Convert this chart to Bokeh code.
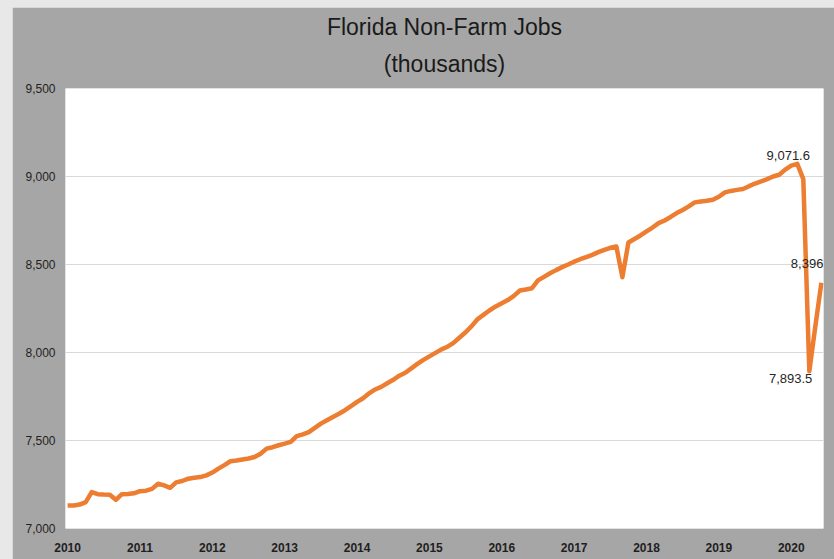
from bokeh.plotting import figure
from bokeh.models import FixedTicker, Label, ColumnDataSource, Range1d, NumeralTickFormatter, Title
from bokeh.layouts import column
from bokeh.embed import file_html
from bokeh.resources import INLINE

# Monthly Florida non-farm jobs (thousands), Jan 2010 .. Jun 2020
jobs_2010 = [7130, 7131, 7136, 7150, 7207, 7195, 7193, 7192, 7163, 7195, 7196, 7200]
jobs_2011 = [7212, 7215, 7225, 7254, 7245, 7231, 7262, 7270, 7283, 7288, 7292, 7302]
jobs_2012 = [7318, 7340, 7360, 7382, 7386, 7392, 7398, 7406, 7425, 7454, 7462, 7473]
jobs_2013 = [7482, 7492, 7525, 7535, 7548, 7572, 7596, 7615, 7634, 7652, 7672, 7695]
jobs_2014 = [7719, 7740, 7768, 7790, 7805, 7825, 7845, 7868, 7885, 7910, 7935, 7958]
jobs_2015 = [7978, 7998, 8018, 8033, 8055, 8085, 8115, 8150, 8190, 8215, 8240, 8262]
jobs_2016 = [8280, 8298, 8322, 8352, 8358, 8365, 8410, 8430, 8450, 8468, 8485, 8500]
jobs_2017 = [8516, 8530, 8542, 8555, 8570, 8583, 8595, 8602, 8428, 8625, 8645, 8665]
jobs_2018 = [8688, 8710, 8735, 8750, 8770, 8792, 8810, 8830, 8853, 8858, 8862, 8868]
jobs_2019 = [8885, 8910, 8918, 8924, 8929, 8945, 8960, 8972, 8985, 9000, 9010, 9039]
jobs_2020 = [9062, 9071.6, 8985, 7893.5, 8150, 8396]

jobs = (jobs_2010 + jobs_2011 + jobs_2012 + jobs_2013 + jobs_2014 + jobs_2015 +
        jobs_2016 + jobs_2017 + jobs_2018 + jobs_2019 + jobs_2020)
months = list(range(len(jobs)))

year_labels = ["2010", "2011", "2012", "2013", "2014", "2015",
               "2016", "2017", "2018", "2019", "2020"]
year_ticks = [12 * i for i in range(len(year_labels))]
y_ticks = [7000, 7500, 8000, 8500, 9000, 9500]

title_line1 = "Florida Non-Farm Jobs"
title_line2 = "(thousands)"

# annotated points (month index)
peak_idx = 121
trough_idx = 123
last_idx = len(jobs) - 1

FONT = "Liberation Sans"

p = figure(width=822, height=552, output_backend="svg", toolbar_location=None,
           x_range=Range1d(-0.35, 125.35), y_range=Range1d(7000, 9500),
           min_border_left=53, min_border_right=11, min_border_top=81,
           min_border_bottom=31)
p.margin = (7, 0, 0, 12)

p.background_fill_color = "white"
p.border_fill_color = "#a6a6a6"
p.outline_line_color = None

title_kw = dict(align="center", text_font=FONT, text_font_size="23px",
                text_font_style="normal", text_color="#1a1a1a", offset=-12)
p.title.text = title_line1
for k, v in title_kw.items():
    setattr(p.title, k, v)
p.title.standoff = -7
p.add_layout(Title(text=title_line2, standoff=24, **title_kw), "above")

src = ColumnDataSource(dict(x=months, y=jobs))
p.line("x", "y", source=src, line_color="#ED7D31", line_width=4.5, line_join="round")

p.xaxis.ticker = FixedTicker(ticks=year_ticks)
p.xaxis.major_label_overrides = {t: l for t, l in zip(year_ticks, year_labels)}
p.yaxis.ticker = FixedTicker(ticks=y_ticks)
p.yaxis.formatter = NumeralTickFormatter(format="0,0")

for ax in (p.xaxis, p.yaxis):
    ax.axis_line_color = None
    ax.major_tick_line_color = None
    ax.minor_tick_line_color = None
    ax.major_tick_out = 0
    ax.major_tick_in = 0
    ax.minor_tick_out = 0
    ax.minor_tick_in = 0
    ax.major_label_text_font = FONT
    ax.major_label_text_color = "#1f1f1f"

p.yaxis.major_label_standoff = 10
p.xaxis.major_label_standoff = 14
p.xaxis.major_label_text_font_size = "12px"
p.xaxis.major_label_text_font_style = "bold"
p.yaxis.major_label_text_font_size = "12px"

p.xgrid.grid_line_color = None
p.ygrid.ticker = FixedTicker(ticks=y_ticks)
p.ygrid.grid_line_color = "#d9d9d9"
p.ygrid.grid_line_width = 1

lab_kw = dict(text_font=FONT, text_font_size="13px", text_color="#262626")
p.add_layout(Label(x=months[peak_idx], y=jobs[peak_idx], text="9,071.6",
                   text_align="center", text_baseline="bottom",
                   x_offset=-9, y_offset=4, **lab_kw))
p.add_layout(Label(x=months[trough_idx], y=jobs[trough_idx], text="7,893.5",
                   text_align="right", text_baseline="middle",
                   x_offset=3, y_offset=-7, **lab_kw))
p.add_layout(Label(x=months[last_idx], y=jobs[last_idx], text="8,396",
                   text_align="right", text_baseline="bottom",
                   x_offset=2, y_offset=15, **lab_kw))

layout = column(p, width=834, height=559, styles={"background-color": "#e8e8e8"})

open("out.html", "w").write(file_html(layout, INLINE))
